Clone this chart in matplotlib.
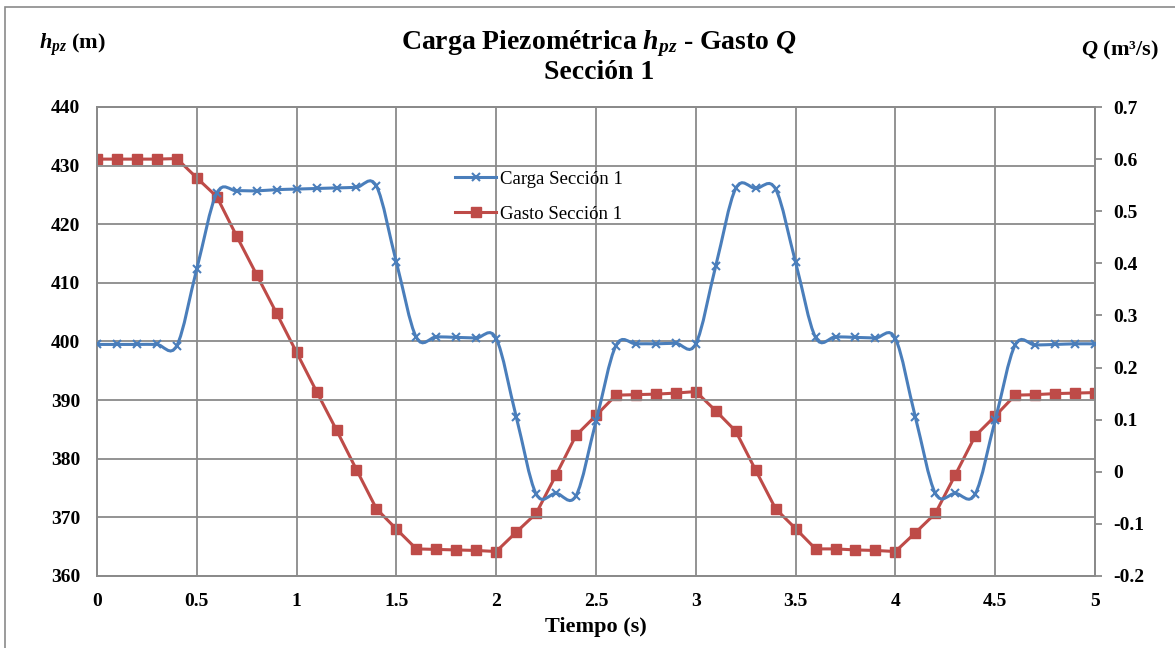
import numpy as np
import matplotlib
matplotlib.use("Agg")
import matplotlib.pyplot as plt
from matplotlib.path import Path
from matplotlib.patches import PathPatch, Rectangle
from matplotlib.lines import Line2D

plt.rcParams['font.family'] = ['Liberation Serif', 'DejaVu Serif']
plt.rcParams['mathtext.fontset'] = 'custom'
plt.rcParams['mathtext.rm'] = 'Liberation Serif:bold'
plt.rcParams['mathtext.it'] = 'Liberation Serif:italic:bold'
plt.rcParams['mathtext.bf'] = 'Liberation Serif:bold'

# datos
tiempo = np.linspace(0, 5, 51)
carga = [399.5, 399.5, 399.5, 399.5, 399.3, 412.4, 425.3, 425.7, 425.7, 425.9,
         426.0, 426.1, 426.2, 426.3, 426.5, 413.5, 400.7, 400.8, 400.7, 400.6,
         400.5, 387.2, 374.0, 374.1, 373.7, 386.4, 399.3, 399.6, 399.6, 399.7,
         399.6, 412.9, 426.1, 426.1, 426.0, 413.5, 400.7, 400.8, 400.7, 400.6,
         400.5, 387.1, 374.1, 374.1, 374.0, 386.6, 399.4, 399.4, 399.5, 399.6,
         399.6]
gasto = [0.600, 0.600, 0.600, 0.600, 0.601, 0.564, 0.528, 0.452, 0.378, 0.304,
         0.229, 0.154, 0.080, 0.004, -0.071, -0.110, -0.148, -0.149, -0.150, -0.151,
         -0.153, -0.116, -0.080, -0.006, 0.070, 0.108, 0.147, 0.148, 0.149, 0.151,
         0.154, 0.117, 0.078, 0.003, -0.071, -0.109, -0.148, -0.148, -0.150, -0.151,
         -0.153, -0.117, -0.080, -0.006, 0.069, 0.107, 0.147, 0.148, 0.150, 0.151,
         0.152]
xticks = [0, 0.5, 1, 1.5, 2, 2.5, 3, 3.5, 4, 4.5, 5]
hticks = [360, 370, 380, 390, 400, 410, 420, 430, 440]
qticks = [-0.2, -0.1, 0, 0.1, 0.2, 0.3, 0.4, 0.5, 0.6, 0.7]

azul = '#4a7ebb'
rojo = '#be4b48'
gris = '#8a8a8a'


def smooth_path(x, y):
    # curva suavizada tipo Excel (Catmull-Rom -> Bezier)
    pts = np.column_stack([x, y])
    verts = [pts[0]]
    codes = [Path.MOVETO]
    n = len(pts)
    for i in range(n - 1):
        p0 = pts[max(i - 1, 0)]
        p1 = pts[i]
        p2 = pts[i + 1]
        p3 = pts[min(i + 2, n - 1)]
        verts += [p1 + (p2 - p0) / 6, p2 - (p3 - p1) / 6, p2]
        codes += [Path.CURVE4] * 3
    return Path(verts, codes)


fig = plt.figure(figsize=(11.75, 6.48), dpi=100)
fig.patches.append(Rectangle((5 / 1175, -0.01), 1.0, 1 - 7 / 648 + 0.01,
                             transform=fig.transFigure, fill=False,
                             edgecolor=gris, lw=1.2))

ax = fig.add_axes([97 / 1175, 1 - 576 / 648, 998 / 1175, 469 / 648])
ax2 = ax.twinx()

ax.set_xlim(0, 5)
ax.set_ylim(360, 440)
ax2.set_ylim(-0.2, 0.7)

ax.set_xticks(xticks)
ax.set_xticklabels([f'{v:g}' for v in xticks])
ax.set_yticks(hticks)
ax.set_yticklabels([str(v) for v in hticks])
ax2.set_yticks(qticks)
ax2.set_yticklabels([f'{v:g}' for v in qticks])

ax.grid(True, color=gris, lw=1.3)
ax.set_axisbelow(True)
for a in (ax, ax2):
    for s in a.spines.values():
        s.set_color(gris)
        s.set_linewidth(1.3)
    for lab in a.get_xticklabels() + a.get_yticklabels():
        lab.set_fontweight('bold')
        lab.set_fontsize(14)

ax.tick_params(axis='x', length=0, pad=12)
ax.tick_params(axis='y', length=0, pad=12)
ax2.tick_params(axis='y', length=5, width=1.3, color=gris, pad=8)

# Gasto (eje derecho), lineas rectas
ax2.plot(tiempo, gasto, color=rojo, lw=2.2, marker='s', ms=7.5,
         mfc=rojo, mec=rojo, zorder=3)

# Carga (eje izquierdo), linea suavizada
ax.set_zorder(ax2.get_zorder() + 1)
ax.patch.set_visible(False)
ax.add_patch(PathPatch(smooth_path(tiempo, np.array(carga)), fill=False,
                       edgecolor=azul, lw=2.2, zorder=3))
ax.plot(tiempo, carga, ls='none', marker='x', ms=6, mew=1.5,
        color=azul, zorder=4)

handles = [Line2D([], [], color=azul, lw=2.2, marker='x', ms=6, mew=1.5),
           Line2D([], [], color=rojo, lw=2.2, marker='s', ms=7.5)]
leg = ax.legend(handles, ['Carga Sección 1', 'Gasto Sección 1'],
                loc='upper left', bbox_to_anchor=(0.342, 0.9), frameon=False,
                fontsize=13.5, handlelength=2.2, labelspacing=0.95,
                handletextpad=0.2)

ax.set_xlabel('Tiempo (s)', fontsize=16, fontweight='bold', labelpad=5)

fig.text(0.51, 0.912, 'Carga Piezométrica $h_{pz}$ - Gasto $Q$\nSección 1',
         ha='center', va='center', fontsize=20, fontweight='bold',
         linespacing=1.05)
fig.text(72 / 1175, 1 - 45 / 648, '$h_{pz}$ (m)', ha='center', va='center',
         fontsize=16, fontweight='bold')
fig.text(1120 / 1175, 1 - 50 / 648, '$Q$ (m³/s)', ha='center', va='center',
         fontsize=16, fontweight='bold')

fig.savefig('out.png', dpi=100)
